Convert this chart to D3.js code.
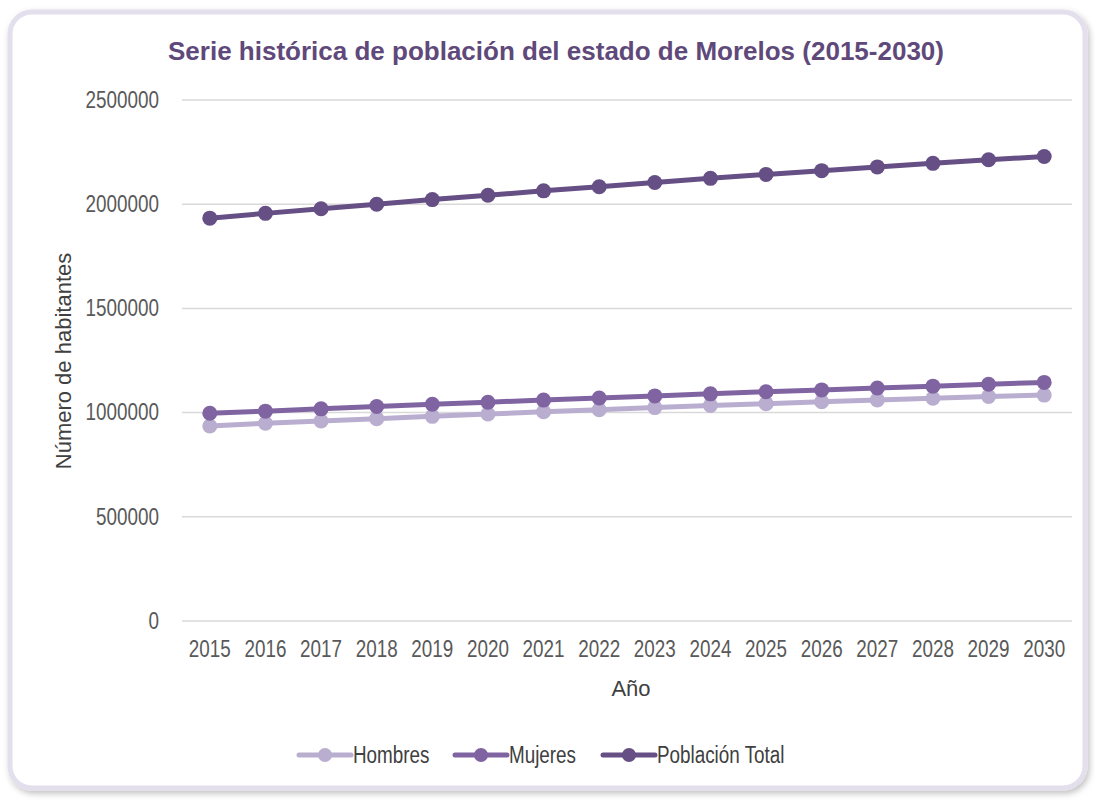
<!DOCTYPE html>
<html>
<head>
<meta charset="utf-8">
<script src="https://cdnjs.cloudflare.com/ajax/libs/d3/7.8.5/d3.min.js"></script>
<style>
  body { margin: 0; background: #fff; }
  text { font-family: "Liberation Sans", Arial, sans-serif; }
</style>
</head>
<body>
<div class="chart"></div>
<script>
// data
var years = ['2015','2016','2017','2018','2019','2020','2021','2022','2023','2024','2025','2026','2027','2028','2029','2030'];
var hombres = [936000, 949000, 960000, 971000, 982000, 993000, 1004000, 1014000, 1024000, 1034000, 1043000, 1052000, 1061000, 1069000, 1077000, 1084000];
var mujeres = [997000, 1007000, 1018000, 1029000, 1040000, 1050000, 1060000, 1070000, 1080000, 1090000, 1100000, 1109000, 1118000, 1127000, 1136000, 1145000];
var total = [1933000, 1956000, 1978000, 2000000, 2022000, 2043000, 2064000, 2084000, 2104000, 2124000, 2143000, 2161000, 2179000, 2196000, 2213000, 2229000];
var yTicks = [0, 500000, 1000000, 1500000, 2000000, 2500000];

var seriesNames = ['Hombres', 'Mujeres', 'Población Total'];
var seriesValues = [hombres, mujeres, total];
var colors = ['#b9aecf', '#8064a2', '#654f85'];

// no Arial Narrow here, so squeeze Liberation Sans
var NARROW = 'scale(0.82,1)';
var FS = 23;

var W = 1095, H = 802;
var svg = d3.select('.chart').append('svg')
            .attr('width', W)
            .attr('height', H);

var defs = svg.append('defs');
var filt = defs.append('filter').attr('id', 'shadow')
               .attr('x', '-5%').attr('y', '-5%').attr('width', '110%').attr('height', '110%');
filt.append('feDropShadow').attr('dx', 2).attr('dy', 3).attr('stdDeviation', 3)
    .attr('flood-color', '#000').attr('flood-opacity', 0.25);

// card
svg.append('rect')
   .attr('x', 10).attr('y', 12)
   .attr('width', 1075).attr('height', 776)
   .attr('rx', 22)
   .attr('fill', '#fff')
   .attr('stroke', '#e3dfec')
   .attr('stroke-width', 5)
   .attr('filter', 'url(#shadow)');

var m = { left: 182, right: 1072, top: 100, bottom: 621 };

var x = d3.scaleBand().domain(years).range([m.left, m.right]);
var y = d3.scaleLinear().domain([0, 2500000]).range([m.bottom, m.top]);

// gridlines
svg.append('g')
   .selectAll('line')
   .data(yTicks)
   .enter()
   .append('line')
   .attr('x1', m.left).attr('x2', m.right)
   .attr('y1', function(d) { return y(d); })
   .attr('y2', function(d) { return y(d); })
   .attr('stroke', '#d9d9d9')
   .attr('stroke-width', 1.5);

// y axis
var yAxis = svg.append('g')
   .attr('transform', 'translate(' + (m.left - 23) + ',0)')
   .call(d3.axisLeft(y).tickValues(yTicks).tickSize(0).tickFormat(d3.format('d')));
yAxis.select('.domain').remove();
yAxis.selectAll('text')
     .attr('x', 0)
     .attr('transform', NARROW)
     .attr('font-size', FS)
     .attr('fill', '#595959');

// x axis
var xAxis = svg.append('g')
   .attr('transform', 'translate(0,' + (m.bottom + 17) + ')')
   .call(d3.axisBottom(x).tickSize(0));
xAxis.select('.domain').remove();
xAxis.selectAll('text')
     .attr('transform', NARROW)
     .attr('font-size', FS)
     .attr('fill', '#595959');

// title
svg.append('text')
   .attr('x', 556).attr('y', 60)
   .attr('text-anchor', 'middle')
   .attr('font-weight', 'bold')
   .attr('font-size', 26)
   .attr('fill', '#5f497a')
   .text('Serie histórica de población del estado de Morelos (2015-2030)');

// axis titles
svg.append('text')
   .attr('transform', 'translate(71,361) rotate(-90)')
   .attr('text-anchor', 'middle')
   .attr('font-size', 22)
   .attr('fill', '#404040')
   .text('Número de habitantes');

svg.append('text')
   .attr('transform', 'translate(631,696)')
   .attr('text-anchor', 'middle')
   .attr('font-size', 22)
   .attr('fill', '#404040')
   .text('Año');

// lines and points
var line = d3.line()
             .x(function(d, i) { return x(years[i]) + x.bandwidth() / 2; })
             .y(function(d) { return y(d); });

var groups = svg.selectAll('.series')
   .data(seriesValues)
   .enter()
   .append('g')
   .attr('class', 'series');

groups.append('path')
   .attr('d', function(d) { return line(d); })
   .attr('fill', 'none')
   .attr('stroke', function(d, i) { return colors[i]; })
   .attr('stroke-width', 5)
   .attr('stroke-linejoin', 'round');

groups.each(function(vals, si) {
  d3.select(this).selectAll('circle')
    .data(vals)
    .enter()
    .append('circle')
    .attr('cx', function(d, i) { return x(years[i]) + x.bandwidth() / 2; })
    .attr('cy', function(d) { return y(d); })
    .attr('r', 7.5)
    .attr('fill', colors[si]);
});

// legend
var legendX = [299, 455, 603];
var legend = svg.selectAll('.legend')
   .data(seriesNames)
   .enter()
   .append('g')
   .attr('class', 'legend')
   .attr('transform', function(d, i) { return 'translate(' + legendX[i] + ',755)'; });

legend.append('line')
   .attr('x1', 0).attr('x2', 52)
   .attr('stroke', function(d, i) { return colors[i]; })
   .attr('stroke-width', 5)
   .attr('stroke-linecap', 'round');
legend.append('circle')
   .attr('cx', 26).attr('r', 7)
   .attr('fill', function(d, i) { return colors[i]; });
legend.append('text')
   .attr('transform', 'translate(54,8) ' + NARROW)
   .attr('font-size', FS)
   .attr('fill', '#404040')
   .text(function(d) { return d; });
</script>
</body>
</html>
